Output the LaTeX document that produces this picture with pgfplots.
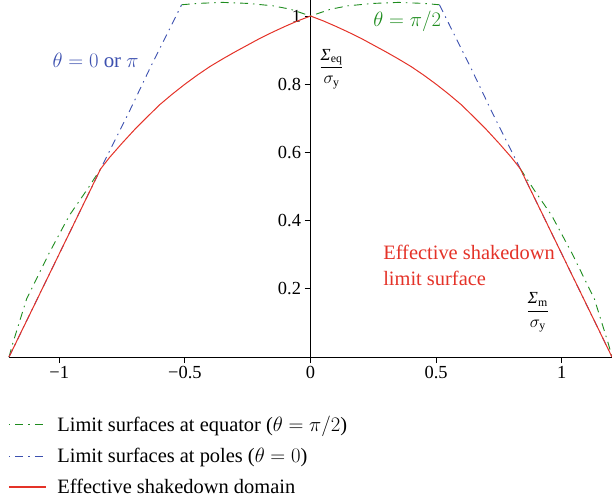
\documentclass[border=0pt]{standalone}
\usepackage{fontspec}
\setmainfont{Liberation Serif}
\usepackage{pgfplots}
\pgfplotsset{compat=1.18}
\definecolor{cgreen}{RGB}{30,140,30}
\definecolor{cblue}{RGB}{60,80,175}
\definecolor{cred}{RGB}{228,50,40}
\begin{document}
\begin{tikzpicture}
\begin{axis}[
 scale only axis, width=603bp, height=357bp,
 xmin=-1.2, xmax=1.2, ymin=0, ymax=1.047,
 axis x line=bottom, axis y line=center,
 axis line style={-, black, line width=0.8bp},
 tick style={black, line width=0.8bp},
 tick align=outside, major tick length=6bp,
 xtick={-1,-0.5,0,0.5,1}, xticklabels={−1,−0.5,0,0.5,1},
 ytick={0.2,0.4,0.6,0.8,1}, yticklabels={0.2,0.4,0.6,0.8,1},
 tick label style={font=\fontsize{18.5}{21}\selectfont},
 clip=false,
 legend style={at={(axis description cs:0,0)}, anchor=north west, xshift=-1bp, yshift=-57bp,
   draw=none, fill=none, inner sep=0pt, row sep=11bp, column sep=9bp,
   font=\fontsize{20.5}{23}\selectfont},
 legend cell align=left,
 legend image code/.code={\draw[#1] (0bp,0bp) -- (37bp,0bp);},
 dashdot/.style={dash pattern=on 8bp off 5bp on 1.5bp off 5bp},
]
\addlegendimage{draw=cgreen, line width=1.1bp, dash pattern=on 1.5bp off 5bp on 8bp off 5bp}
\addlegendentry{Limit surfaces at equator ($\theta = \pi/2$)}
\addlegendimage{draw=cblue, line width=1.1bp, dash pattern=on 1.5bp off 5bp on 8bp off 5bp}
\addlegendentry{Limit surfaces at poles ($\theta = 0$)}
\addlegendimage{draw=cred, line width=1.2bp}
\addlegendentry{Effective shakedown domain}
% equator (green)
\addplot[cgreen, line width=0.9bp, dashdot, forget plot] coordinates {
(-1.2,0) (-1.185,0.04) (-1.13,0.17) (-1.04,0.305) (-0.96,0.415) (-0.89,0.49) (-0.835,0.552)};
\addplot[cgreen, line width=0.9bp, dashdot, forget plot] coordinates {
(-0.513,1.033) (-0.45,1.037) (-0.35,1.04) (-0.25,1.037) (-0.15,1.03) (-0.08,1.02) (0,1.0)
(0.08,1.02) (0.15,1.03) (0.25,1.037) (0.35,1.04) (0.45,1.037) (0.513,1.033)};
\addplot[cgreen, line width=0.9bp, dashdot, forget plot] coordinates {
(0.835,0.552) (0.89,0.49) (0.96,0.415) (1.04,0.305) (1.13,0.17) (1.185,0.04) (1.2,0)};
% poles (blue)
\addplot[cblue, line width=0.9bp, dashdot, forget plot] coordinates {
(-1.2,0) (-0.835,0.552) (-0.727,0.711) (-0.635,0.853) (-0.513,1.033)};
\addplot[cblue, line width=0.9bp, dashdot, forget plot] coordinates {
(0.513,1.033) (0.635,0.853) (0.727,0.711) (0.835,0.552) (1.2,0)};
% effective (red)
\addplot[cred, line width=1bp, forget plot] coordinates {
(-1.2,0) (-0.835,0.552) (-0.8,0.585) (-0.75,0.627) (-0.7,0.667) (-0.65,0.704) (-0.6,0.740) (-0.55,0.771) (-0.5,0.800) (-0.45,0.827) (-0.4,0.852) (-0.35,0.874) (-0.3,0.895) (-0.25,0.915) (-0.2,0.935) (-0.15,0.953) (-0.1,0.970) (-0.05,0.986) (0,1)
(0.05,0.986) (0.1,0.970) (0.15,0.953) (0.2,0.935) (0.25,0.915) (0.3,0.895) (0.35,0.874) (0.4,0.852) (0.45,0.827) (0.5,0.800) (0.55,0.771) (0.6,0.740) (0.65,0.704) (0.7,0.667) (0.75,0.627) (0.8,0.585) (0.835,0.552) (1.2,0)};
% annotations
\node[cblue, font=\fontsize{21}{24}\selectfont] at (axis cs:-0.855,0.87) {$\theta = 0$ or $\pi$};
\node[cgreen, font=\fontsize{21}{24}\selectfont] at (axis cs:0.385,0.985) {$\theta = \pi/2$};
\node[cred, anchor=north west, align=left, inner sep=0pt, font=\fontsize{20.5}{27}\selectfont] at (axis cs:0.289,0.33) {Effective shakedown\\limit surface};
\node[anchor=west, inner sep=0pt, font=\fontsize{17}{19}\selectfont] at (axis cs:0.035,0.845) {$\displaystyle\frac{\hbox{\textit{Σ}}_{\mathrm{eq}}}{\sigma_{\mathrm{y}}}$};
\node[inner sep=0pt, font=\fontsize{17}{19}\selectfont] at (axis cs:0.905,0.13) {$\displaystyle\frac{\hbox{\textit{Σ}}_{\mathrm{m}}}{\sigma_{\mathrm{y}}}$};
\end{axis}
\pgfresetboundingbox
\useasboundingbox (-9bp,-143bp) rectangle (603bp,357bp);
\end{tikzpicture}
\end{document}
